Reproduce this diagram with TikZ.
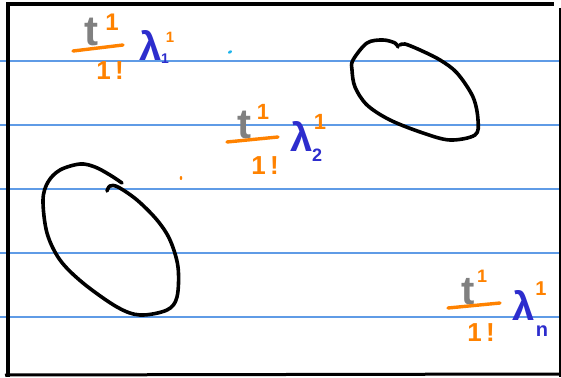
\documentclass[tikz,border=0pt]{standalone}
\usepackage{fontspec}
\setmainfont{Liberation Sans}
\usepackage{xcolor}
\usepackage{tikz}
\usetikzlibrary{calc, positioning}

\definecolor{rulecol}{RGB}{95,155,230}
\definecolor{inkgray}{RGB}{128,128,128}
\definecolor{inkorange}{RGB}{255,130,0}
\definecolor{inkblue}{RGB}{45,45,205}
\definecolor{inkcyan}{RGB}{30,180,235}

\newcommand{\fs}[1]{\fontsize{#1}{#1}\selectfont\bfseries}

\tikzset{
    ink/.style={inner sep=0pt, anchor=base},
    bar/.style={inkorange, line width=3.4pt, line cap=round},
    blob/.style={line width=3.6pt, line cap=round, line join=round}
}

\begin{document}
\begin{tikzpicture}[x=1pt, y=-1pt]
    \useasboundingbox (0,0) rectangle (561,377);

    % 1. Lignes du cahier
    \foreach \y in {61,125,189,253,317} {
        \draw[rulecol, line width=1.1pt] (0,\y) -- (559,\y);
    }

    % 2. Cadre
    \draw[line width=3.4pt] (6,4) -- (554,4);
    \draw[line width=3.6pt] (8,3) -- (8,377);
    \draw[line width=1.6pt] (560,8) -- (560,377);
    \draw[line width=3pt] (5,375) -- (561,374);

    % 3. Premier terme
    \node[ink, inkgray] (t1) at (91,46) {\fs{42}t};
    \node[ink, inkorange] (t1sup) at (112,31) {\fs{24}1};
    \draw[bar] (73,51) -- (123,45);
    \node[ink, inkorange] (n1) at (110,80) {\fs{26}1\,!};
    \node[ink, inkblue] (l1) at (151,61) {\fs{40}λ};
    \node[ink, inkblue] (l1sub) at (165,64) {\fs{14}1};
    \node[ink, inkorange] (l1sup) at (170,43) {\fs{15}1};

    % 4. Deuxieme terme
    \node[ink, inkgray] (t2) at (244,138) {\fs{42}t};
    \node[ink, inkorange] (t2sup) at (263,119) {\fs{22}1};
    \draw[bar] (227,142) -- (278,137);
    \node[ink, inkorange] (n2) at (265,174) {\fs{26}1\,!};
    \node[ink, inkblue] (l2) at (302,151) {\fs{40}λ};
    \node[ink, inkblue] (l2sub) at (317,161) {\fs{18}2};
    \node[ink, inkorange] (l2sup) at (320,129) {\fs{22}1};

    % 5. Dernier terme
    \node[ink, inkgray] (tn) at (468,304) {\fs{40}t};
    \node[ink, inkorange] (tnsup) at (482,282) {\fs{18}1};
    \draw[bar] (448,308) -- (500,303);
    \node[ink, inkorange] (nn) at (481,341) {\fs{26}1\,!};
    \node[ink, inkblue] (ln) at (524,320) {\fs{40}λ};
    \node[ink, inkblue] (lnsub) at (542,336) {\fs{20}n};
    \node[ink, inkorange] (lnsup) at (541,295) {\fs{20}1};

    % 6. Les deux boucles
    \draw[blob] plot[smooth, tension=0.55] coordinates {
        (398,47) (395,43) (383,40) (367,43) (353,60) (352,70) (355,87)
        (367,105) (390,120) (423,133) (450,140) (475,135) (478,120)
        (473,97) (457,73) (440,60) (420,50) (405,44) (400,45)};
    \draw[blob] plot[smooth, tension=0.55] coordinates {
        (107,191) (110,186) (118,187) (137,200) (157,220) (170,240)
        (178,267) (177,297) (167,310) (140,315) (117,307) (83,283)
        (60,260) (47,233) (43,200) (48,182) (60,170) (80,164) (95,167)
        (110,175) (122,183)};

    % 7. Petits points
    \fill[inkcyan, rotate around={30:(230,52)}] (230,52) ellipse (2.2 and 1.4);
    \fill[inkorange] (181,178) ellipse (1.3 and 2);
\end{tikzpicture}
\end{document}
